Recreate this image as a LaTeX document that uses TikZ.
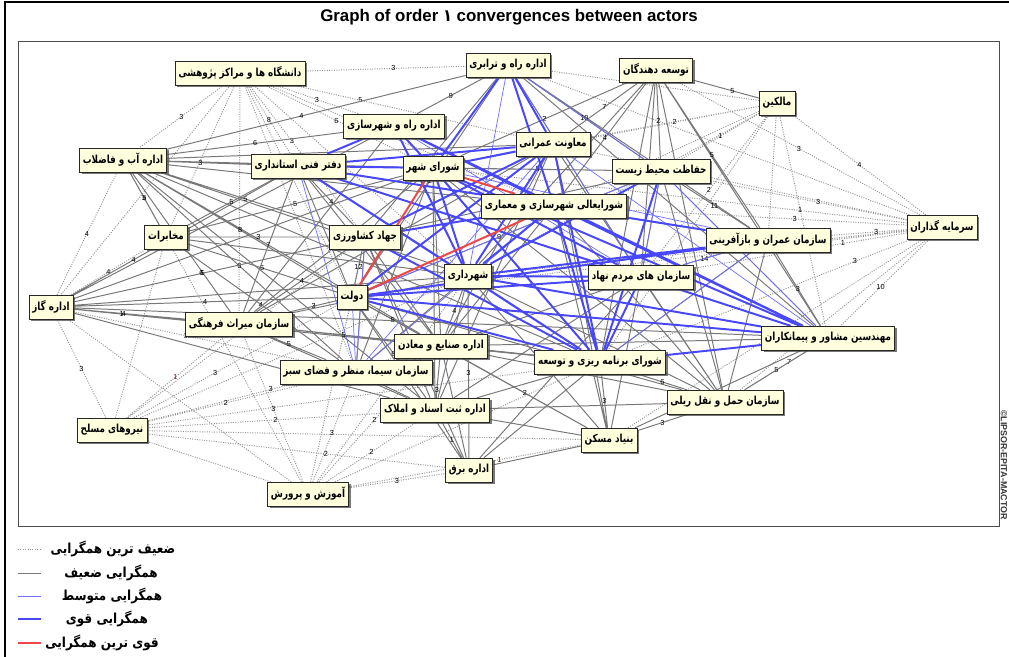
\documentclass[tikz,border=0pt]{standalone}
\usepackage{fontspec}
\setmainfont{Liberation Sans}
\setsansfont{Liberation Sans}
\newfontfamily\fa[Script=Arabic,FakeStretch=0.79]{DejaVu Sans}
\newfontfamily\fb[Script=Arabic,FakeStretch=0.87]{DejaVu Sans}
\TeXXeTstate=1
\usetikzlibrary{shadows,backgrounds}
\definecolor{cream}{RGB}{255,255,222}
\definecolor{weakgray}{RGB}{120,120,120}
\definecolor{dotgray}{RGB}{150,150,150}
\definecolor{medblue}{RGB}{110,110,255}
\definecolor{strongblue}{RGB}{72,72,250}
\definecolor{redline}{RGB}{240,70,70}
\newcommand{\rl}[1]{\beginR #1\endR}

\begin{document}
\begin{tikzpicture}[x=0.025cm,y=-0.025cm,
  actor/.style={draw=black!85,fill=cream,font=\fa\bfseries\fontsize{7.9}{9}\selectfont,
    inner sep=2.5pt,minimum height=17pt,
    drop shadow={shadow xshift=1.6pt,shadow yshift=-1.6pt,opacity=0.75,fill=black!70}},
  weakest/.style={densely dotted,dotgray,line width=0.7pt},
  weak/.style={weakgray,line width=0.7pt},
  medium/.style={medblue,line width=0.5pt},
  strong/.style={strongblue,line width=1.4pt},
  strongest/.style={redline,line width=1.4pt},
  lb/.style={font=\sffamily\fontsize{5.2}{5}\selectfont,inner sep=0.3pt,text=black},
  lr/.style={lb,text=red!50!black},
  key/.style={font=\fb\bfseries\fontsize{9.8}{11}\selectfont}]
\useasboundingbox (0,0) rectangle (1009,657);
\draw [line width=1pt] (5,657) -- (5,2) -- (1009,2);
\node [font=\bfseries\fontsize{12}{14}\selectfont] (title) at (509,17) {Graph of order {\fb ۱} convergences between actors};
\draw [black!70,line width=0.6pt] (18,41) rectangle (999,526);
\node [rotate=-90,font=\sffamily\bfseries\fontsize{6.3}{7}\selectfont,text=black!80] (copy) at (1004,465) {©LIPSOR-EPITA-MACTOR};

\node[actor] (rt) at (508,65) {\rl{اداره راه و ترابری}};
\node[actor] (td) at (656,70) {\rl{توسعه دهندگان}};
\node[actor] (mk) at (777,103) {\rl{مالکین}};
\node[actor] (dn) at (240,73) {\rl{دانشگاه ها و مراکز پژوهشی}};
\node[actor] (rs) at (394,126) {\rl{اداره راه و شهرسازی}};
\node[actor] (mo) at (553,144) {\rl{معاونت عمرانی}};
\node[actor] (ab) at (123,160) {\rl{اداره آب و فاضلاب}};
\node[actor] (df) at (298,166) {\rl{دفتر فنی استانداری}};
\node[actor] (ss) at (433,168) {\rl{شورای شهر}};
\node[actor] (hm) at (661,171) {\rl{حفاظت محیط زیست}};
\node[actor] (sa) at (554,206) {\rl{شورایعالی شهرسازی و معماری}};
\node[actor] (sg) at (942,227) {\rl{سرمایه گذاران}};
\node[actor] (mb) at (166,237) {\rl{مخابرات}};
\node[actor] (jk) at (365,237) {\rl{جهاد کشاورزی}};
\node[actor] (so) at (768,240) {\rl{سازمان عمران و بازآفرینی}};
\node[actor] (sh) at (468,276) {\rl{شهرداری}};
\node[actor] (ng) at (641,277) {\rl{سازمان های مردم نهاد}};
\node[actor] (gz) at (51,307) {\rl{اداره گاز}};
\node[actor] (dv) at (352,297) {\rl{دولت}};
\node[actor] (mf) at (239,324) {\rl{سازمان میراث فرهنگی}};
\node[actor] (mp) at (828,338) {\rl{مهندسین مشاور و پیمانکاران}};
\node[actor] (sm) at (441,346) {\rl{اداره صنایع و معادن}};
\node[actor] (sb) at (600,362) {\rl{شورای برنامه ریزی و توسعه}};
\node[actor] (sf) at (356,372) {\rl{سازمان سیما، منظر و فضای سبز}};
\node[actor] (hr) at (725,402) {\rl{سازمان حمل و نقل ریلی}};
\node[actor] (ot) at (435,410) {\rl{اداره ثبت اسناد و املاک}};
\node[actor] (nm) at (112,430) {\rl{نیروهای مسلح}};
\node[actor] (bm) at (609,440) {\rl{بنیاد مسکن}};
\node[actor] (eb) at (469,470) {\rl{اداره برق}};
\node[actor] (ap) at (308,494) {\rl{آموزش و پرورش}};

\begin{scope}[on background layer]
\draw [weakest] (sg) -- node[lb,pos=0.4]{3} (so) (sg) -- node[lb,pos=0.55]{10} (mp) (sg) -- node[lb,pos=0.45]{3} (hm)
  (sg) -- node[lb,pos=0.4]{3} (sa) (sg) -- node[lb,pos=0.3]{1} (ng) (sg) -- node[lb,pos=0.2]{3} (sb)
  (sg) -- (mo) (sg) -- node[lb,pos=0.5]{3} (td) (sg) -- (hr) (sg) -- (sh) (sg) -- (rt) (sg) -- node[lb,pos=0.5]{4} (mk)
  (sg) -- (ss) (sg) -- (bm) (sg) -- (dv);
\draw [weakest] (mk) -- node[lb,pos=0.5]{1} (hm) (mk) -- (so) (mk) -- node[lb,pos=0.45]{1} (mp) (mk) -- (sa)
  (mk) -- node[lb,pos=0.5]{2} (mo) (mk) -- node[lb,pos=0.5]{2} (ng) (mk) -- (sb) (mk) -- (sh) (mk) -- (ss) (mk) -- (rt);
\draw [weakest] (dn) -- node[lb,pos=0.55]{3} (rt) (dn) -- node[lb,pos=0.5]{3} (rs) (dn) -- node[lb,pos=0.5]{6} (ss)
  (dn) -- node[lb,pos=0.5]{8} (df) (dn) -- node[lb,pos=0.5]{3} (ab) (dn) -- (mb) (dn) -- node[lb,pos=0.4]{3} (jk)
  (dn) -- (sa) (dn) -- node[lb,pos=0.3]{5} (mo) (dn) -- (dv) (dn) -- (sh) (dn) -- (gz) (dn) -- (mf) (dn) -- (sf);
\draw [weakest] (nm) -- node[lb,pos=0.55]{2} (ot) (nm) -- node[lb,pos=0.5]{2} (sf) (nm) -- node[lr,pos=0.5]{1} (mf)
  (nm) -- node[lb,pos=0.4]{3} (dv) (nm) -- node[lb,pos=0.5]{3} (sm) (nm) -- node[lb,pos=0.6]{2} (eb) (nm) -- (ap)
  (nm) -- node[lb,pos=0.5]{4} (jk) (nm) -- (bm) (nm) -- node[lb,pos=0.5]{3} (gz) (nm) -- (sb) (nm) -- (sh) (nm) -- (mb);
\draw [weakest] (ap) -- node[lb,pos=0.5]{2} (ot) (ap) -- node[lb,pos=0.5]{3} (sf) (ap) -- node[lb,pos=0.5]{2} (sm)
  (ap) -- node[lb,pos=0.5]{3} (eb) (ap) -- node[lr,pos=0.65]{1} (bm) (ap) -- node[lb,pos=0.5]{3} (mf) (ap) -- (dv)
  (ap) -- (sh) (ap) -- (sb) (ap) -- node[lb,pos=0.5]{2} (jk) (ap) -- (mb) (ap) -- (gz);
\draw [weakest] (gz) -- node[lb,pos=0.5]{4} (ab) (gz) -- node[lb,pos=0.5]{4} (mb) (mb) -- node[lb,pos=0.5]{4} (ab)
  (gz) -- node[lb,pos=0.5]{3} (sf) (mp) -- node[lb,pos=0.3]{7} (hr);

\draw [weak] (ab) -- node[lb,pos=0.4]{3} (df) (ab) -- (ss) (ab) -- node[lb,pos=0.5]{6} (rs) (ab) -- node[lb,pos=0.5]{5} (jk)
  (ab) -- node[lb,pos=0.5]{8} (dv) (ab) -- (sh) (ab) -- node[lb,pos=0.5]{6} (sf) (ab) -- (sm) (ab) -- node[lb,pos=0.72]{5} (mf)
  (ab) -- (sa) (ab) -- (mo) (ab) -- (ot) (ab) -- (sb) (ab) -- node[lb,pos=0.45]{4} (rt) (ab) -- node[lb,pos=0.5]{5} (mb);
\draw [weak] (gz) -- node[lb,pos=0.3]{4} (df) (gz) -- node[lb,pos=0.5]{6} (jk) (gz) -- node[lb,pos=0.5]{4} (dv)
  (gz) -- (sh) (gz) -- node[lb,pos=0.15]{1} (sm) (gz) -- (ot) (gz) -- node[lb,pos=0.45]{4} (mf) (gz) -- (sb)
  (gz) -- (ss) (gz) -- (mp) (gz) -- (rs);
\draw [weak] (mb) -- node[lb,pos=0.5]{5} (df) (mb) -- node[lb,pos=0.5]{5} (ss) (mb) -- node[lb,pos=0.5]{3} (jk)
  (mb) -- node[lb,pos=0.5]{6} (dv) (mb) -- (sh) (mb) -- node[lb,pos=0.5]{4} (sf);
\draw [weak] (mf) -- node[lb,pos=0.5]{7} (df) (mf) -- (ss) (mf) -- node[lb,pos=0.5]{4} (jk) (mf) -- node[lb,pos=0.5]{3} (dv)
  (mf) -- (sh) (mf) -- node[lb,pos=0.5]{5} (sm) (mf) -- node[lb,pos=0.35]{5} (sf) (mf) -- (ot) (mf) -- (sb)
  (mf) -- (mo) (mf) -- (rs);
\draw [weak] (td) -- node[lb,pos=0.6]{5} (mk) (td) -- node[lb,pos=0.5]{7} (mo) (td) -- node[lb,pos=0.5]{4} (sa)
  (td) -- node[lb,pos=0.5]{2} (hm) (td) -- node[lb,pos=0.5]{5} (so) (td) -- (sh) (td) -- (ng) (td) -- (sb)
  (td) -- (mp) (td) -- (hr) (td) -- node[lb,pos=0.5]{2} (ss);
\draw [weak] (rt) -- node[lb,pos=0.5]{9} (rs) (rt) -- node[lb,pos=0.5]{10} (hm) (rt) -- (so) (rt) -- (mp)
  (rt) -- (ng) (rt) -- node[lb,pos=0.5]{2} (dv) (rt) -- (jk);
\draw [weak] (hr) -- node[lb,pos=0.5]{6} (sb) (hr) -- node[lb,pos=0.5]{5} (mp) (hr) -- (ng) (hr) -- (sh)
  (hr) -- (ss) (hr) -- (dv) (hr) -- (sm) (hr) -- (ot) (hr) -- node[lb,pos=0.5]{3} (bm) (hr) -- (so)
  (hr) -- (mo) (hr) -- (sa) (hr) -- (hm);
\draw [weak] (bm) -- node[lb,pos=0.5]{3} (sb) (bm) -- (ot) (bm) -- node[lb,pos=0.5]{2} (sm) (bm) -- (sh)
  (bm) -- (dv) (bm) -- (eb) (bm) -- (ng) (bm) -- (mp) (bm) -- (sa) (bm) -- (mo);
\draw [weak] (eb) -- node[lb,pos=0.5]{1} (ot) (eb) -- (sm) (eb) -- (sb) (eb) -- node[lb,pos=0.5]{3} (sh)
  (eb) -- (dv) (eb) -- (ng) (eb) -- (jk);
\draw [weak] (ot) -- node[lb,pos=0.2]{3} (sm) (ot) -- (sh) (ot) -- node[lb,pos=0.5]{6} (dv) (ot) -- (sb)
  (ot) -- (sf) (ot) -- (ng) (ot) -- (jk) (ot) -- (ss) (ot) -- (mo);
\draw [weak] (sm) -- node[lb,pos=0.5]{4} (sh) (sm) -- node[lb,pos=0.5]{5} (dv) (sm) -- (sb) (sm) -- (ng)
  (sm) -- (ss) (sm) -- (jk) (sm) -- (df) (sm) -- (mp) (sm) -- (sa) (sm) -- (mo);
\draw [weak] (sf) -- (sm) (sf) -- (sh) (sf) -- (jk) (sf) -- (ss);
\draw [weak] (hm) -- node[lb,pos=0.5]{9} (dv) (hm) -- node[lb,pos=0.5]{8} (ss) (hm) -- (jk) (hm) -- node[lb,pos=0.5]{11} (so)
  (hm) -- (ng) (hm) -- (mp) (hm) -- (df);
\draw [weak] (so) -- node[lb,pos=0.5]{3} (mp) (so) -- node[lb,pos=0.5]{14} (ng) (so) -- (sb) (so) -- (df) (so) -- (dv);
\draw [weak] (df) -- node[lb,pos=0.5]{4} (jk) (df) -- (dv) (jk) -- node[lb,pos=0.5]{12} (dv);

\draw [medium] (rt) -- (hm) (rt) -- (sh) (ss) -- (so) (df) -- (sf) (dv) -- (sf) (sa) -- (sf) (so) -- (ng)
  (mp) -- (hm) (mo) -- (mp) (rs) -- (ng) (jk) -- (sf) (hm) -- (ng) (sb) -- (so) (mo) -- (sf) (rt) -- (ng) (dv) -- (hm);

\draw [strong] (rs) -- (sa) (rs) -- (ss) (rs) -- (df) (rs) -- (mp) (rs) -- (sh) (rt) -- (mo) (rt) -- (ss)
  (rt) -- (sa) (mo) -- (sb) (mo) -- (df) (mo) -- (sh) (mo) -- (dv) (mo) -- (ss) (mo) -- (jk) (ss) -- (sb)
  (ss) -- (mp) (ss) -- (sh) (ss) -- (ng) (ss) -- (df) (sa) -- (mp) (sa) -- (so) (sa) -- (sb) (sa) -- (df)
  (sa) -- (sh) (df) -- (sb) (df) -- (sh) (df) -- (ng) (dv) -- (ng) (dv) -- (sb) (dv) -- (mp) (sh) -- (mp)
  (sh) -- (sb) (sh) -- (ng) (ng) -- (mp) (ng) -- (sb) (jk) -- (sb) (jk) -- (sa) (hm) -- (sh) (so) -- (sh)
  (so) -- (dv) (sb) -- (mp) (hm) -- (sb);

\draw [strongest] (ss) -- (sa) (ss) -- (dv) (dv) -- (sa);
\end{scope}

\draw [weakest] (18,549) -- (41,549);
\draw [weak] (18,573) -- (41,573);
\draw [medium] (18,596) -- (41,596);
\draw [strong] (18,619) -- (41,619);
\draw [strongest] (18,643) -- (41,643);
\node [key] (l1) at (113,549) {\rl{ضعیف ترین همگرایی}};
\node [key] (l2) at (111,573) {\rl{همگرایی ضعیف}};
\node [key] (l3) at (112,596) {\rl{همگرایی متوسط}};
\node [key] (l4) at (107,619) {\rl{همگرایی قوی}};
\node [key] (l5) at (102,643) {\rl{قوی ترین همگرایی}};
\end{tikzpicture}
\end{document}
